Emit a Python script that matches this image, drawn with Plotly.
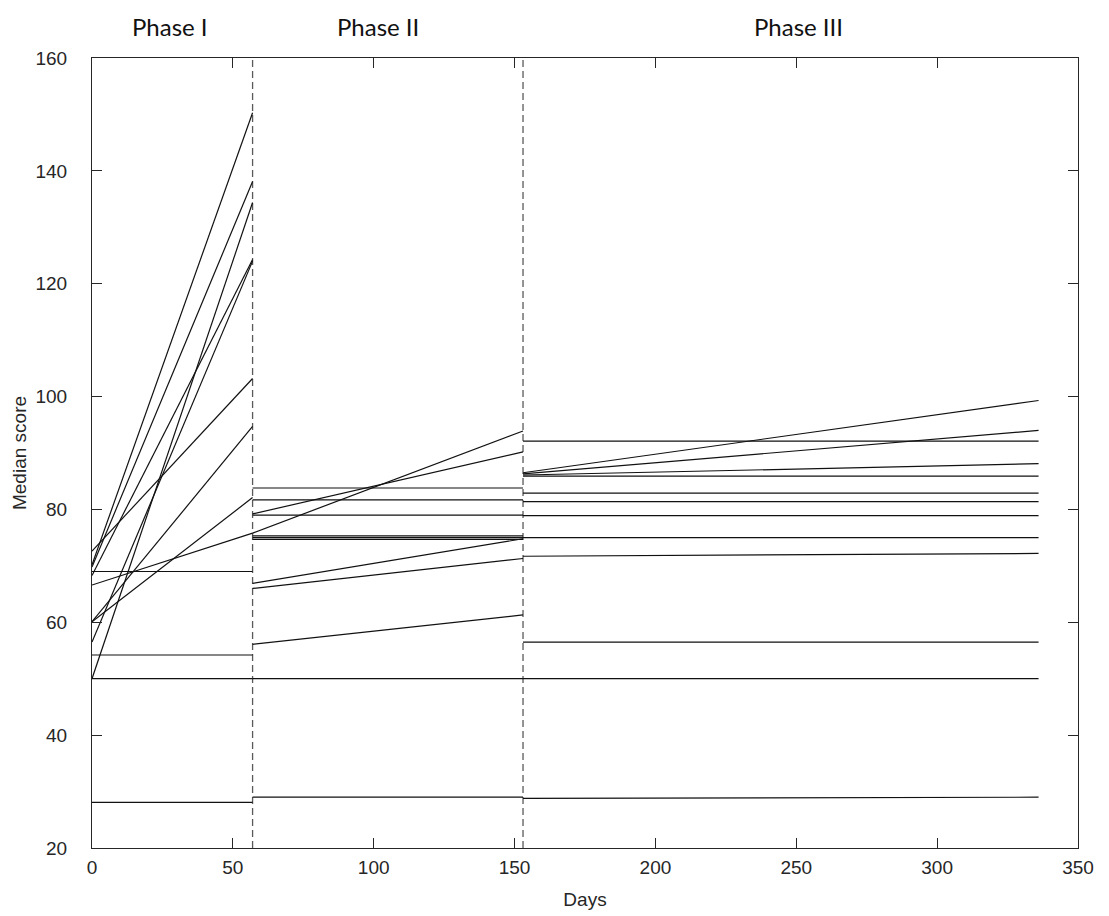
import plotly.graph_objects as go

# Phase boundaries (days)
phase_x = [0, 57, 153, 336]
phase_names = ["Phase I", "Phase II", "Phase III"]
phase_label_x = [27.6, 101.5, 250.8]

# Median scores per participant: start/end of each phase
p1_start = [70.2, 69.8, 68.3, 50.0, 56.5, 72.6, 60.1, 60.1, 66.6, 69.0, 54.2, 50.0, 28.1]
p1_end   = [150.3, 138.1, 124.3, 134.4, 124.0, 103.2, 94.7, 82.1, 75.8, 69.0, 54.2, 50.0, 28.1]

p2_start = [83.8, 81.7, 79.2, 79.0, 75.8, 75.3, 75.0, 74.7, 66.9, 66.0, 56.1, 50.0, 29.0]
p2_end   = [83.8, 81.7, 90.2, 79.0, 93.9, 75.3, 75.0, 74.7, 74.8, 71.3, 61.3, 50.0, 29.0]

p3_start = [92.1, 86.5, 86.3, 86.1, 85.9, 82.9, 81.4, 78.9, 75.0, 71.7, 56.5, 50.0, 28.8]
p3_end   = [92.1, 99.3, 94.0, 88.1, 85.9, 82.9, 81.4, 78.9, 75.0, 72.2, 56.5, 50.0, 29.0]

x_ticks = [0, 50, 100, 150, 200, 250, 300, 350]
y_ticks = [20, 40, 60, 80, 100, 120, 140, 160]

fig = go.Figure()

# vertical dashed phase separators
for xb in phase_x[1:3]:
    fig.add_trace(go.Scatter(x=[xb, xb], y=[20, 160], mode="lines",
                             line=dict(color="#5a5a5a", width=1.3, dash="7px,4px"),
                             hoverinfo="skip", showlegend=False))

for i in range(len(p1_start)):
    xs = [phase_x[0], phase_x[1], None, phase_x[1], phase_x[2], None, phase_x[2], phase_x[3]]
    ys = [p1_start[i], p1_end[i], None, p2_start[i], p2_end[i], None, p3_start[i], p3_end[i]]
    fig.add_trace(go.Scatter(x=xs, y=ys, mode="lines",
                             line=dict(color="#111111", width=1.2),
                             connectgaps=False, showlegend=False))

for name, xl in zip(phase_names, phase_label_x):
    fig.add_annotation(x=xl, xref="x", y=1.04, yref="paper", text=name,
                       showarrow=False, yanchor="middle",
                       font=dict(family="Lato, Open Sans, sans-serif", size=24, color="#111111"))

tickfont = dict(family="Liberation Sans, Arial, sans-serif", size=19, color="#262626")
titlefont = dict(family="Liberation Sans, Arial, sans-serif", size=19, color="#262626")
axis_common = dict(showline=True, linecolor="#262626", linewidth=1.2, mirror="ticks",
                   ticks="inside", ticklen=10, tickwidth=1.1, tickcolor="#262626",
                   showgrid=False, zeroline=False, automargin=False, tickfont=tickfont)

fig.update_xaxes(range=[0, 350], tickvals=x_ticks, ticklabelstandoff=2,
                 title=dict(text="Days", standoff=15, font=titlefont),
                 **axis_common)
fig.update_yaxes(range=[20, 160], tickvals=y_ticks, ticklabelstandoff=20,
                 title=dict(text="Median score", standoff=3, font=titlefont),
                 **axis_common)

# page body has an 8px default margin; size the figure so the plot box lands where the reference has it
fig.update_layout(width=1101, height=908, plot_bgcolor="white", paper_bgcolor="white",
                  margin=dict(l=84, r=31, t=50, b=68), showlegend=False)

fig.write_html("out.html")
